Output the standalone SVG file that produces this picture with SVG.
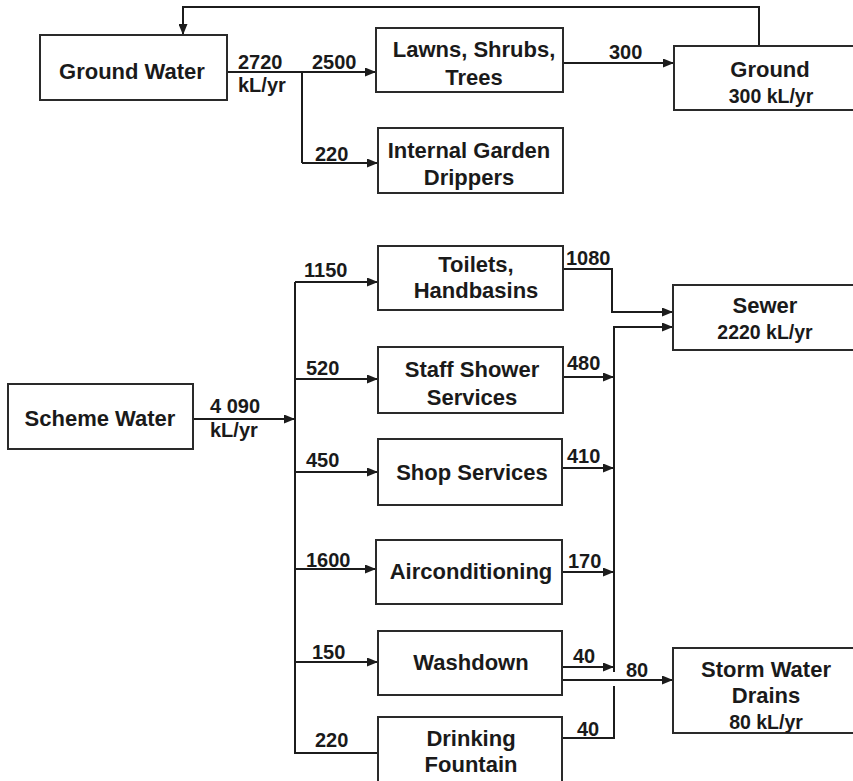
<svg xmlns="http://www.w3.org/2000/svg" width="853" height="781" viewBox="0 0 853 781">
<defs>
<marker id="ah" markerWidth="11" markerHeight="9" refX="11" refY="4.5" orient="auto" markerUnits="userSpaceOnUse"><path d="M0,0 L11,4.5 L0,9 z" fill="#1c1c1c"/></marker>
</defs>
<style>
.box{fill:#fff;stroke:#2a2a2a;stroke-width:2}
.ln{fill:none;stroke:#1c1c1c;stroke-width:2}
.ar{marker-end:url(#ah)}
text{font-family:"Liberation Sans",Arial,Helvetica,sans-serif;font-weight:bold;fill:#1a1a1a}
.lb{font-size:22px;text-anchor:middle}
.sb{font-size:19.5px;text-anchor:middle}
.nm{font-size:20px}
</style>
<rect width="853" height="781" fill="#fff"/>

<g id="connectors">
<path class="ln ar" d="M759,46 V7 H183 V35"/>
<path class="ln" d="M227,72 H302 V163"/>
<path class="ln ar" d="M302,72 H376"/>
<path class="ln ar" d="M302,163 H378"/>
<path class="ln ar" d="M563,63 H674"/>
<path class="ln ar" d="M193,419 H295"/>
<path class="ln" d="M295,282 V753 H378"/>
<path class="ln ar" d="M295,282 H378"/>
<path class="ln ar" d="M295,379 H378"/>
<path class="ln ar" d="M295,472 H378"/>
<path class="ln ar" d="M295,569 H376"/>
<path class="ln ar" d="M295,662 H378"/>
<path class="ln ar" d="M563,269 H612 V312 H673"/>
<path class="ln ar" d="M614,672 V327 H673"/>
<path class="ln" d="M614,686 V738 H562"/>
<path class="ln ar" d="M563,377 H614"/>
<path class="ln ar" d="M562,468 H614"/>
<path class="ln ar" d="M562,572 H614"/>
<path class="ln ar" d="M562,667 H614"/>
<path class="ln ar" d="M562,680 H673"/>
</g>
<g id="flow-labels">
<text class="nm" x="238" y="69">2720</text>
<text class="nm" x="238" y="92">kL/yr</text>
<text class="nm" x="312" y="69">2500</text>
<text class="nm" x="315" y="161">220</text>
<text class="nm" x="609" y="59">300</text>
<text class="nm" x="210" y="413">4 090</text>
<text class="nm" x="210" y="437">kL/yr</text>
<text class="nm" x="304" y="277">1150</text>
<text class="nm" x="306" y="375">520</text>
<text class="nm" x="306" y="467">450</text>
<text class="nm" x="306" y="567">1600</text>
<text class="nm" x="312" y="659">150</text>
<text class="nm" x="315" y="747">220</text>
<text class="nm" x="566" y="265">1080</text>
<text class="nm" x="567" y="370">480</text>
<text class="nm" x="567" y="463">410</text>
<text class="nm" x="568" y="568">170</text>
<text class="nm" x="573" y="663">40</text>
<text class="nm" x="577" y="736">40</text>
<text class="nm" x="626" y="677">80</text>
</g>

<g id="ground-water"><rect class="box" x="40" y="35" width="187" height="65"/><text class="lb" x="132" y="79">Ground Water</text></g>
<g id="lawns"><rect class="box" x="376" y="28" width="187" height="64"/><text class="lb" x="474" y="57">Lawns, Shrubs,</text><text class="lb" x="474" y="85">Trees</text></g>
<g id="internal-garden"><rect class="box" x="378" y="128" width="185" height="65"/><text class="lb" x="469" y="158">Internal Garden</text><text class="lb" x="469" y="185">Drippers</text></g>
<g id="ground"><rect class="box" x="674" y="46" width="200" height="64"/><text class="lb" x="770" y="77">Ground</text><text class="sb" x="771" y="103">300 kL/yr</text></g>

<g id="scheme-water"><rect class="box" x="8" y="384" width="185" height="65"/><text class="lb" x="100" y="426">Scheme Water</text></g>
<g id="toilets"><rect class="box" x="378" y="246" width="185" height="64"/><text class="lb" x="476" y="272">Toilets,</text><text class="lb" x="476" y="298">Handbasins</text></g>
<g id="staff-shower"><rect class="box" x="378" y="347" width="185" height="66"/><text class="lb" x="472" y="377">Staff Shower</text><text class="lb" x="472" y="405">Services</text></g>
<g id="shop-services"><rect class="box" x="378" y="439" width="184" height="66"/><text class="lb" x="472" y="480">Shop Services</text></g>
<g id="airconditioning"><rect class="box" x="376" y="540" width="186" height="64"/><text class="lb" x="471" y="579">Airconditioning</text></g>
<g id="washdown"><rect class="box" x="378" y="631" width="184" height="64"/><text class="lb" x="471" y="670">Washdown</text></g>
<g id="drinking-fountain"><rect class="box" x="378" y="717" width="184" height="80"/><text class="lb" x="471" y="746">Drinking</text><text class="lb" x="471" y="772">Fountain</text></g>
<g id="sewer"><rect class="box" x="673" y="285" width="200" height="65"/><text class="lb" x="765" y="313">Sewer</text><text class="sb" x="765" y="339">2220 kL/yr</text></g>
<g id="storm-water"><rect class="box" x="673" y="648" width="200" height="85"/><text class="lb" x="766" y="677">Storm Water</text><text class="lb" x="766" y="703">Drains</text><text class="sb" x="766" y="729">80 kL/yr</text></g>
</svg>
